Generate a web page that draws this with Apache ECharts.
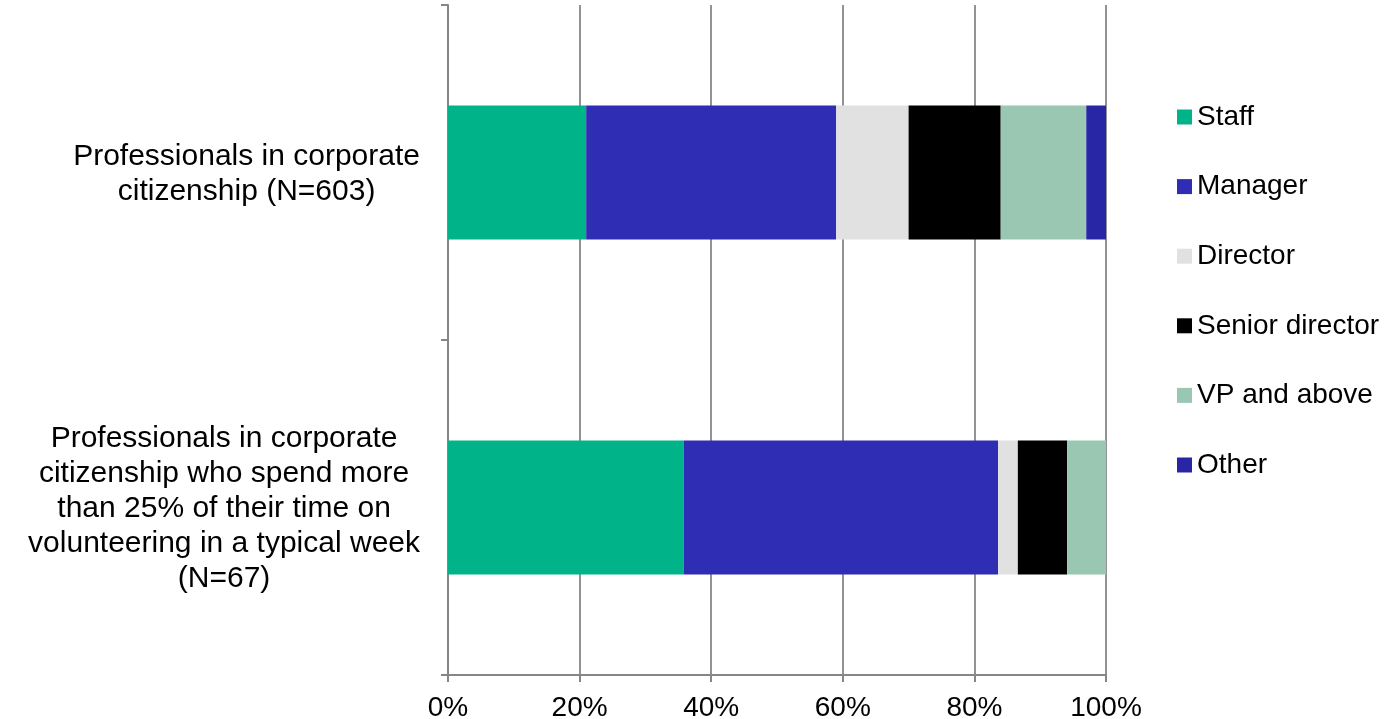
<!DOCTYPE html>
<html>
<head>
<meta charset="utf-8">
<script src="https://cdn.jsdelivr.net/npm/echarts@6/dist/echarts.min.js"></script>
<style>
html,body{margin:0;padding:0;background:#fff;}
#chart{width:1390px;height:719px;}
</style>
</head>
<body>
<div id="chart"></div>
<script>
const categories = [
  'Professionals in corporate\ncitizenship (N=603)',
  'Professionals in corporate\ncitizenship who spend more\nthan 25% of their time on\nvolunteering in a typical week\n(N=67)'
];
const seriesNames = ['Staff', 'Manager', 'Director', 'Senior director', 'VP and above', 'Other'];
const staff = [21, 35.8];
const manager = [38, 47.8];
const director = [11, 3.0];
const seniorDirector = [14, 7.5];
const vpAndAbove = [13, 6.0];
const other = [3, 0];
const xTicks = [0, 20, 40, 60, 80, 100];

const colors = ['#00B388', '#2E2DB3', '#E1E1E1', '#000000', '#99C7B2', '#2926A6'];
const values = [staff, manager, director, seniorDirector, vpAndAbove, other];
const FONT = "'Liberation Sans', Arial, sans-serif";

const chart = echarts.init(document.getElementById('chart'), null, {renderer: 'canvas'});
chart.setOption({
  animation: false,
  backgroundColor: '#fff',
  grid: {left: 448, right: 284, top: 5, bottom: 44, containLabel: false, outerBoundsMode: 'none'},
  legend: {
    orient: 'vertical',
    left: 1177,
    top: 102,
    padding: 0,
    itemWidth: 15,
    itemHeight: 15,
    itemGap: 39.6,
    icon: 'rect',
    itemStyle: {borderWidth: 0},
    textStyle: {fontFamily: FONT, fontSize: 28, color: '#000', lineHeight: 30},
    data: seriesNames
  },
  xAxis: {
    type: 'value',
    min: xTicks[0],
    max: xTicks[xTicks.length - 1],
    interval: 20,
    axisLine: {show: true, lineStyle: {color: '#868686', width: 2}},
    axisTick: {show: true, length: 7, lineStyle: {color: '#868686', width: 2}},
    splitLine: {show: true, lineStyle: {color: '#939393', width: 2}},
    axisLabel: {
      formatter: '{value}%',
      fontFamily: FONT, fontSize: 28, color: '#000', margin: 19
    }
  },
  yAxis: {
    type: 'category',
    inverse: true,
    data: categories,
    axisLine: {show: true, lineStyle: {color: '#868686', width: 2}},
    axisTick: {show: true, length: 7, lineStyle: {color: '#868686', width: 2}},
    axisLabel: {
      margin: 28,
      fontFamily: FONT, fontSize: 30, color: '#000', lineHeight: 35,
      formatter: function (v) {
        return v.split('\n').map(function (l) { return '{c|' + l + '}'; }).join('\n');
      },
      rich: {
        c: {align: 'center', fontFamily: FONT, fontSize: 30, color: '#000', lineHeight: 35, padding: [3, 0, 0, 0]}
      }
    }
  },
  series: seriesNames.map(function (name, i) {
    return {
      name: name,
      type: 'bar',
      stack: 'total',
      barWidth: '40%',
      itemStyle: {color: colors[i]},
      emphasis: {disabled: true},
      data: values[i]
    };
  })
});
</script>
</body>
</html>
